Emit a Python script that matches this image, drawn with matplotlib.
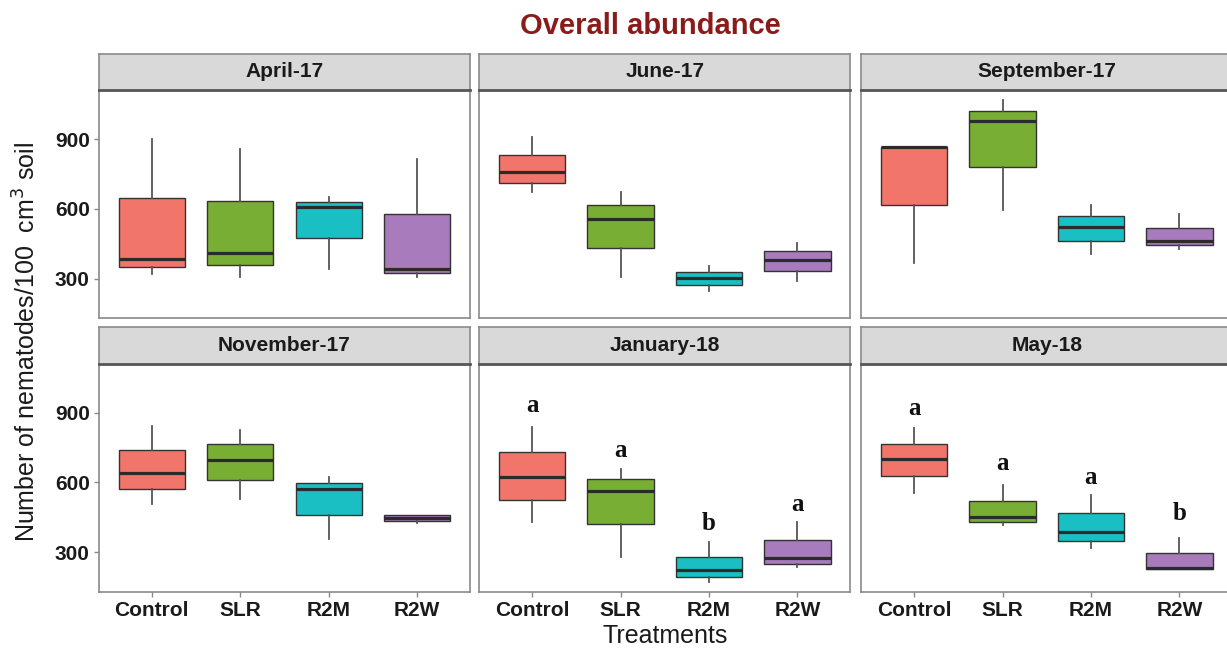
import matplotlib
matplotlib.use("Agg")
import matplotlib.pyplot as plt

treatments = ["Control", "SLR", "R2M", "R2W"]
months = ["April-17", "June-17", "September-17", "November-17", "January-18", "May-18"]

# per month: [whisker low, Q1, median, Q3, whisker high] for each treatment
april17 = [[318, 350, 383, 646, 900], [307, 359, 412, 636, 860],
           [340, 474, 607, 632, 653], [307, 323, 340, 578, 816]]
june17 = [[672, 712, 761, 834, 910], [307, 430, 557, 617, 672],
          [246, 271, 301, 329, 353], [290, 333, 381, 419, 454]]
sept17 = [[369, 617, 867, 867, 867], [596, 783, 978, 1023, 1070],
          [405, 461, 523, 571, 617], [426, 443, 462, 520, 578]]
nov17 = [[508, 570, 642, 742, 843], [527, 610, 699, 765, 828],
         [355, 459, 570, 597, 624], [424, 434, 447, 458, 460]]
jan18 = [[431, 524, 623, 732, 838], [280, 422, 563, 613, 660],
         [172, 193, 221, 280, 343], [236, 250, 273, 350, 429]]
may18 = [[556, 630, 702, 768, 833], [416, 431, 451, 520, 591],
         [316, 348, 386, 470, 548], [226, 226, 230, 297, 362]]
panels = [april17, june17, sept17, nov17, jan18, may18]

# significance letters
jan18_letters = ["a", "a", "b", "a"]
jan18_letter_y = [932, 738, 424, 505]
may18_letters = ["a", "a", "a", "b"]
may18_letter_y = [917, 680, 623, 465]
letters = {4: (jan18_letters, jan18_letter_y), 5: (may18_letters, may18_letter_y)}

colors = ["#F2756B", "#79AE35", "#1ABFC3", "#A77BBC"]

W, H = 1227, 648
fig = plt.figure(figsize=(W / 100, H / 100), dpi=100)

col_left = [98.7, 479.0, 861.0]
col_w = 371.5
row_top = [90.0, 363.5]
row_h = 228.0
strip_h = 36.5

tick_font = dict(family="Liberation Sans", weight="bold", size=15)

for i, stats in enumerate(panels):
    r, c = divmod(i, 3)
    x0, y0 = col_left[c], row_top[r]
    ax = fig.add_axes([x0 / W, 1 - (y0 + row_h) / H, col_w / W, row_h / H])
    bstats = []
    for s in stats:
        bstats.append(dict(whislo=s[0], q1=s[1], med=s[2], q3=s[3], whishi=s[4], fliers=[]))
    bp = ax.bxp(bstats, positions=range(1, 5), widths=0.75, patch_artist=True,
                showfliers=False, showcaps=False,
                boxprops=dict(edgecolor="#333333", linewidth=1.0),
                medianprops=dict(color="#2b2b2b", linewidth=2.3, solid_capstyle="butt"),
                whiskerprops=dict(color="#555555", linewidth=1.3))
    for patch, col in zip(bp["boxes"], colors):
        patch.set_facecolor(col)
    ax.set_xlim(0.4, 4.6)
    ax.set_ylim(130, 1113)
    ax.set_yticks([300, 600, 900])
    ax.set_xticks(range(1, 5))
    for sp in ax.spines.values():
        sp.set_color("#8a8a8a")
        sp.set_linewidth(1.2)
    ax.tick_params(axis="both", length=3.5, width=1.0, color="#8a8a8a", pad=3)
    if c == 0:
        ax.set_yticklabels(["300", "600", "900"], **tick_font, color="#1a1a1a")
    else:
        ax.set_yticklabels([])
        ax.tick_params(axis="y", length=0)
    if r == 1:
        ax.set_xticklabels(treatments, **tick_font, color="#1a1a1a")
    else:
        ax.set_xticklabels([])
        ax.tick_params(axis="x", length=0)
    if i in letters:
        labs, ys = letters[i]
        for k, (lab, yv) in enumerate(zip(labs, ys)):
            ax.text(k + 1, yv, lab, ha="center", va="center",
                    family="Liberation Serif", weight="bold", fontsize=18, color="#111111")
    # strip
    sax = fig.add_axes([x0 / W, 1 - (y0) / H, col_w / W, strip_h / H])
    sax.set_xlim(0, 1)
    sax.set_ylim(0, 1)
    sax.set_xticks([])
    sax.set_yticks([])
    sax.set_facecolor("#D9D9D9")
    for sp in sax.spines.values():
        sp.set_color("#8a8a8a")
        sp.set_linewidth(1.2)
    sax.spines["bottom"].set_color("#555555")
    sax.spines["bottom"].set_linewidth(2.0)
    sax.text(0.5, 0.5, months[i], ha="center", va="center",
             family="Liberation Sans", weight="bold", fontsize=15, color="#1a1a1a")

fig.text(650 / W, 1 - 26 / H, "Overall abundance", ha="center", va="center",
         family="Liberation Sans", weight="bold", fontsize=21, color="#8B1A1A")
fig.text(665 / W, 1 - 636 / H, "Treatments", ha="center", va="center",
         family="Liberation Sans", fontsize=18, color="#1a1a1a")
fig.text(27 / W, 1 - 342 / H, r"Number of nematodes/100  cm$^3$ soil", ha="center", va="center",
         rotation=90, family="Liberation Sans", fontsize=18, color="#1a1a1a")

fig.savefig("out.png", dpi=100)
